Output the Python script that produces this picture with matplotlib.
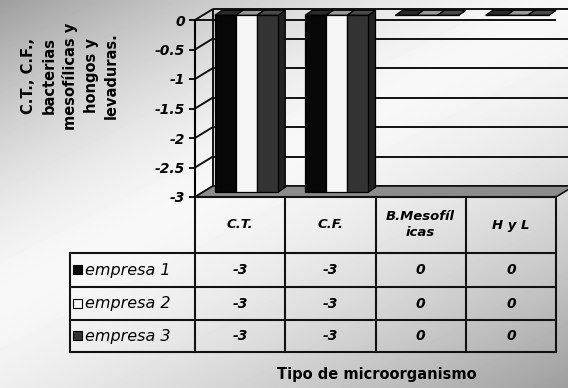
import numpy as np
import matplotlib
matplotlib.use("Agg")
import matplotlib.pyplot as plt
from matplotlib.patches import Polygon, Rectangle

# ---- data -----------------------------------------------------------------
categories = ["C.T.", "C.F.", "B.Mesofíl\nicas", "H y L"]
series_names = ["empresa 1", "empresa 2", "empresa 3"]
empresa_1 = [-3, -3, 0, 0]
empresa_2 = [-3, -3, 0, 0]
empresa_3 = [-3, -3, 0, 0]
y_ticks = [0, -0.5, -1, -1.5, -2, -2.5, -3]
y_tick_labels = ["0", "-0.5", "-1", "-1.5", "-2", "-2.5", "-3"]
y_label = "C.T., C.F.,\nbacterias\nmesofílicas y\nhongos y\nlevaduras."
x_label = "Tipo de microorganismo"

series_values = [empresa_1, empresa_2, empresa_3]
# front, top, side colours of each series
series_colors = [("#080808", "#2a2a2a", "#000000"),
                 ("#f6f6f6", "#9a9a9a", "#c8c8c8"),
                 ("#333333", "#4a4a4a", "#222222")]

# ---- figure & background -------------------------------------------------
W, H, DPI = 568, 388, 100
fig = plt.figure(figsize=(W / DPI, H / DPI), dpi=DPI)

yy, xx = np.mgrid[0:H, 0:W]
s = xx + 1.93 * yy
s0 = 580.0
smax = (W - 1) + 1.93 * (H - 1)
d = np.where(s < s0, (s0 - s) / s0, (s - s0) / (smax - s0))
shade = (248 - 90 * d ** 1.5) / 255.0
bg = fig.add_axes([0, 0, 1, 1], zorder=0)
bg.imshow(shade, cmap="gray", vmin=0, vmax=1, aspect="auto", interpolation="bilinear")
bg.axis("off")

# ---- plot area (front plane in data units) --------------------------------
left_px, floor_px = 195, 197
cat_px, unit_px = 90.25, 59.0
ncat = len(categories)
vmin, vmax = min(y_ticks), max(y_ticks)

ax = fig.add_axes([left_px / W, (H - floor_px) / H, (W - left_px) / W, floor_px / H], zorder=1)
ax.set_xlim(0, (W - left_px) / cat_px)
ax.set_ylim(vmin, vmin + floor_px / unit_px)
ax.patch.set_alpha(0)

DX, DY = 18 / cat_px, 11 / unit_px          # depth of the box
xend = ncat

line_kw = dict(color="#111111", lw=1.4, solid_capstyle="butt")
# side wall and back wall grid
for v in y_ticks:
    ax.plot([0, DX], [v, v + DY], zorder=1.5, **line_kw)
    ax.plot([DX, xend + DX + 1], [v + DY, v + DY], zorder=1.5, **line_kw)
ax.plot([DX, DX], [vmin + DY, vmax + DY], zorder=1.5, **line_kw)
# floor
ax.add_patch(Polygon([(0, vmin), (xend, vmin), (xend + DX, vmin + DY), (DX, vmin + DY)],
                     closed=True, fc="#8c8c8c", ec="#111111", lw=1.2, zorder=1.6))
# front top edge
ax.plot([0, xend], [vmax, vmax], zorder=1.7, **line_kw)

# bars
group_w = 0.70
bw = group_w / len(series_values)
OX, OY = 0.07, 0.08          # position of the bars inside the box depth
BDX, BDY = 0.08, 0.085       # bar depth
idx = np.arange(ncat)
for j, (vals, (c_front, c_top, c_side)) in enumerate(zip(series_values, series_colors)):
    z = 3 + j * 0.1
    xc = idx + 0.5 - group_w / 2 + bw * (j + 0.5) + OX
    bars = ax.bar(xc, vals, width=bw, bottom=OY, color=c_front, edgecolor="#000000",
                  lw=0.9, zorder=z + 0.05)
    for rect, v in zip(bars, vals):
        x0, w = rect.get_x(), rect.get_width()
        yt, yb = OY, OY + v
        ax.add_patch(Polygon([(x0 + w, yb), (x0 + w, yt), (x0 + w + BDX, yt + BDY),
                              (x0 + w + BDX, yb + BDY)], closed=True, fc=c_side,
                             ec="#000000", lw=0.9, zorder=z))
        ax.add_patch(Polygon([(x0, yt), (x0 + w, yt), (x0 + w + BDX, yt + BDY),
                              (x0 + BDX, yt + BDY)], closed=True, fc=c_top,
                             ec="#000000", lw=0.9, zorder=z + 0.02))

for sp in ("top", "right", "bottom"):
    ax.spines[sp].set_visible(False)
ax.spines["left"].set_bounds(vmin, vmax)
ax.spines["left"].set_linewidth(1.5)
ax.set_xticks([])
ax.set_yticks(y_ticks)
ax.set_yticklabels(y_tick_labels, fontstyle="italic", fontweight="bold", fontsize=10)
ax.tick_params(axis="y", length=4, width=1.3, pad=3)

# ---- data table -------------------------------------------------------------
tab = fig.add_axes([0, 0, 1, 1], zorder=2)
tab.set_xlim(0, W)
tab.set_ylim(H, 0)
tab.axis("off")
tab.patch.set_alpha(0)

cols = [left_px + cat_px * i for i in range(ncat + 1)]
head_top, head_bot = floor_px, 253
rows = [head_bot, 287, 320, 352]
leg_left = 70
tkw = dict(color="#111111", lw=1.5, solid_capstyle="projecting")

for cx in cols:
    tab.plot([cx, cx], [head_top, rows[-1]], **tkw)
tab.plot([leg_left, leg_left], [rows[0], rows[-1]], **tkw)
tab.plot([cols[0], cols[-1]], [head_top, head_top], **tkw)
for r in rows:
    tab.plot([leg_left, cols[-1]], [r, r], **tkw)

for i, name in enumerate(categories):
    tab.text((cols[i] + cols[i + 1]) / 2, (head_top + head_bot) / 2, name,
             ha="center", va="center", fontsize=9.5, fontstyle="italic",
             fontweight="bold", linespacing=1.3)

for j, (name, vals, colors) in enumerate(zip(series_names, series_values, series_colors)):
    yc = (rows[j] + rows[j + 1]) / 2
    tab.add_patch(Rectangle((73, yc - 5), 9, 9, fc=colors[0], ec="#000000", lw=0.8))
    tab.text(85, yc, name, ha="left", va="center", fontsize=11.5, fontstyle="italic")
    for i, v in enumerate(vals):
        tab.text((cols[i] + cols[i + 1]) / 2, yc, f"{v:g}", ha="center", va="center",
                 fontsize=10, fontstyle="italic", fontweight="bold")

# axis titles
tab.text(377, 374, x_label, ha="center", va="center", fontsize=10.5, fontweight="bold")
tab.text(70, 76, y_label, rotation=90, ha="center", va="center", multialignment="center",
         fontsize=10.5, fontweight="bold", linespacing=1.45)

fig.savefig("out.png", dpi=DPI)
